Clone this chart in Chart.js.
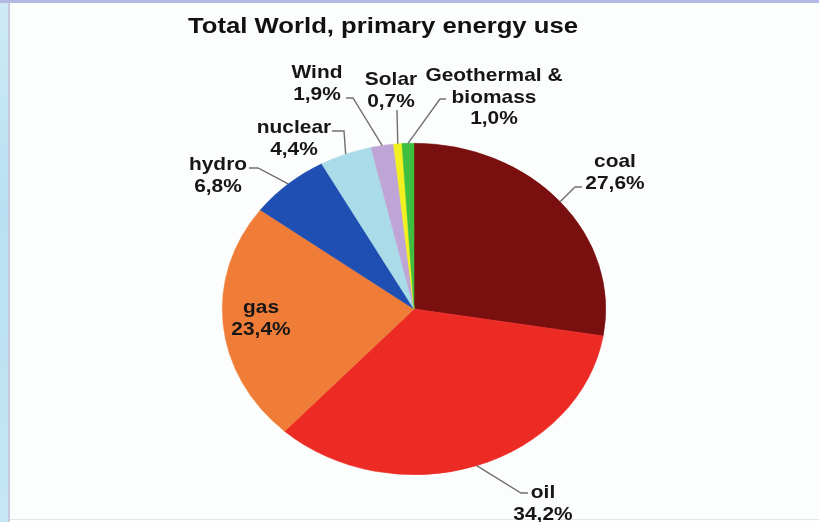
<!DOCTYPE html>
<html>
<head>
<meta charset="utf-8">
<script src="https://cdn.jsdelivr.net/npm/chart.js@4.4.1/dist/chart.umd.min.js"></script>
<style>
  html, body { margin: 0; padding: 0; width: 819px; height: 522px; overflow: hidden; background: #fcfdfd; }
  #strip { position: absolute; left: 0; top: 0; width: 8px; height: 522px; background: linear-gradient(180deg, #cfeaf6 0%, #b8e0f2 40%, #c6e6f4 100%); }
  #lborder { position: absolute; left: 8px; top: 3px; width: 2px; height: 519px; background: #c9c9de; }
  #tborder { position: absolute; left: 0; top: 0; width: 819px; height: 3px; background: #b4b9e4; }
  #bborder { position: absolute; left: 10px; top: 519px; width: 809px; height: 1px; background: #e4e6ee; }
  #wrap { position: absolute; left: 0; top: 0; width: 819px; height: 522px; }
</style>
</head>
<body>
<div id="strip"></div>
<div id="tborder"></div>
<div id="lborder"></div>
<div id="bborder"></div>
<div id="wrap"><canvas id="c" width="819" height="522"></canvas></div>
<script>
// ---- data ----
const titleText = "Total World, primary energy use";
const categories = ["coal", "oil", "gas", "hydro", "nuclear", "Wind", "Solar", "Geothermal &\nbiomass"];
const values = [27.6, 34.2, 23.4, 6.8, 4.4, 1.9, 0.7, 1.0];
const colors = ["#7a0f10", "#ec2b25", "#f07d37", "#1f4fb2", "#a9dbe8", "#bfa5d6", "#f2f01e", "#3fbe3f"];

// ---- label layout (text centre x, first baseline y, elbow path from label to slice) ----
const labelLayout = [
  { x: 615, y: 167, leader: [[582, 187], [575, 187]] },
  { x: 543, y: 498, leader: [[528, 493], [521, 493]] },
  { x: 261, y: 313, leader: null },
  { x: 218, y: 170, leader: [[249, 168], [258, 168]] },
  { x: 294, y: 133, leader: [[332, 131], [344, 131]] },
  { x: 317, y: 78,  leader: [[346, 98], [353, 98]] },
  { x: 391, y: 85,  leader: [[397, 110]] },
  { x: 494, y: 81,  leader: [[446, 99], [440, 99]] }
];
const ELLIPSE_X = 192 / 166;   // horizontal stretch of the pie
const LABEL_FONT = 'bold 19px "Liberation Sans", Arial, sans-serif';
const LABEL_SCALE_X = 1.1;
const LINE_H = 21.5;

function fmt(v) { return v.toFixed(1).replace('.', ',') + '%'; }

function stretch(chart, ctx) {
  const a = chart.chartArea;
  const cx = (a.left + a.right) / 2, cy = (a.top + a.bottom) / 2;
  ctx.translate(cx, cy); ctx.scale(ELLIPSE_X, 1); ctx.translate(-cx, -cy);
}

function drawText(ctx, text, x, y, sx) {
  ctx.save();
  ctx.translate(x, y);
  ctx.scale(sx, 1);
  ctx.fillText(text, 0, 0);
  ctx.restore();
}

const ellipsePlugin = {
  id: 'ellipse',
  beforeDatasetsDraw(chart) { chart.ctx.save(); stretch(chart, chart.ctx); },
  afterDatasetsDraw(chart) { chart.ctx.restore(); }
};

const labelPlugin = {
  id: 'labels',
  afterDraw(chart) {
    const ctx = chart.ctx;
    const meta = chart.getDatasetMeta(0);
    const a = chart.chartArea;
    const cx = (a.left + a.right) / 2, cy = (a.top + a.bottom) / 2;
    // title
    ctx.save();
    ctx.fillStyle = '#111';
    ctx.font = 'bold 22px "Liberation Sans", Arial, sans-serif';
    ctx.textAlign = 'center';
    ctx.textBaseline = 'alphabetic';
    const tw = ctx.measureText(titleText).width;
    drawText(ctx, titleText, 383, 33, 390 / tw);
    ctx.restore();

    meta.data.forEach((arc, i) => {
      const p = arc.getProps(['startAngle', 'endAngle', 'outerRadius'], true);
      const mid = (p.startAngle + p.endAngle) / 2;
      const ax = cx + Math.cos(mid) * p.outerRadius * ELLIPSE_X;
      const ay = cy + Math.sin(mid) * p.outerRadius;
      const L = labelLayout[i];
      if (L.leader) {
        ctx.save();
        ctx.strokeStyle = '#707070';
        ctx.lineWidth = 1.4;
        ctx.beginPath();
        ctx.moveTo(L.leader[0][0], L.leader[0][1]);
        for (let k = 1; k < L.leader.length; k++) ctx.lineTo(L.leader[k][0], L.leader[k][1]);
        ctx.lineTo(ax, ay);
        ctx.stroke();
        ctx.restore();
      }
      const lines = categories[i].split('\n').concat([fmt(values[i])]);
      ctx.save();
      ctx.fillStyle = '#161616';
      ctx.font = LABEL_FONT;
      ctx.textAlign = 'center';
      ctx.textBaseline = 'alphabetic';
      lines.forEach((t, k) => drawText(ctx, t, L.x, L.y + k * LINE_H, LABEL_SCALE_X));
      ctx.restore();
    });
  }
};

new Chart(document.getElementById('c'), {
  type: 'pie',
  data: {
    labels: categories,
    datasets: [{
      data: values,
      backgroundColor: colors,
      borderColor: colors,
      borderWidth: 0.5
    }]
  },
  options: {
    responsive: false,
    animation: false,
    events: [],
    layout: { padding: { top: 143, bottom: 47, left: 9, right: 0 } },
    plugins: {
      legend: { display: false },
      tooltip: { enabled: false },
      title: { display: false }
    }
  },
  plugins: [ellipsePlugin, labelPlugin]
});
</script>
</body>
</html>
